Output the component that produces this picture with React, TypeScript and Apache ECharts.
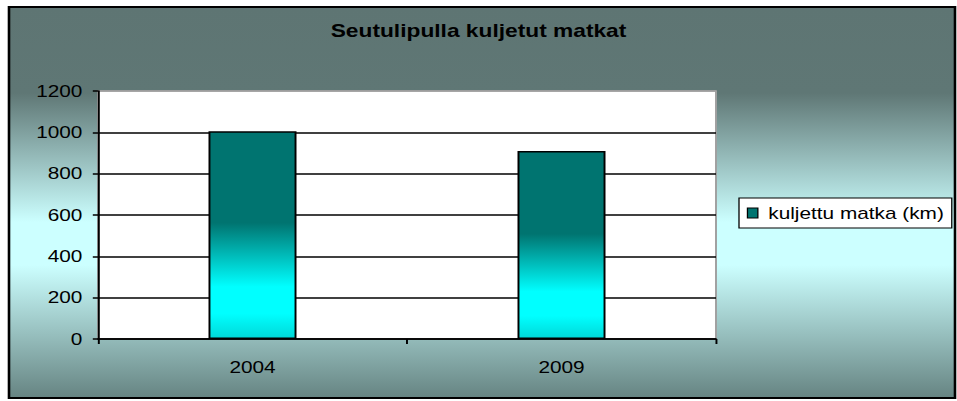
import React, { useEffect, useRef } from "react";
import * as echarts from "echarts";

const categories = ["2004", "2009"];
const seriesName = "kuljettu matka (km)";
const values = [1005, 910];
const yTicks = [0, 200, 400, 600, 800, 1000, 1200];
const titleText = "Seutulipulla kuljetut matkat";

const FULL_W = 957;
const NARROW_W = 736;
const H = 401;
const S = FULL_W / NARROW_W;
const nx = (x: number) => x / S;

export default function App() {
  const ref = useRef<HTMLDivElement>(null);
  useEffect(() => {
    document.body.style.margin = "0";
    const chart = echarts.init(ref.current!, null, { renderer: "svg" });
    const font = 'Arial, "Liberation Sans", sans-serif';
    const plotL = nx(98);
    const plotR = nx(716);
    const option = {
      animation: false,
      backgroundColor: "#ffffff",
      title: {
        text: titleText,
        left: "center",
        top: 22,
        padding: [0, 0, 0, 4.6],
        textStyle: { fontFamily: font, fontSize: 17.5, fontWeight: "bold", color: "#000" },
      },
      graphic: [
        {
          type: "rect",
          z: -100,
          shape: { x: nx(9), y: 7, width: nx(955) - nx(9), height: 391 },
          style: {
            fill: new echarts.graphic.LinearGradient(0, 0, 0, 1, [
              { offset: 0, color: "#5e7573" },
              { offset: 0.22, color: "#5f7775" },
              { offset: 0.55, color: "#ccffff" },
              { offset: 0.66, color: "#ccffff" },
              { offset: 1, color: "#668482" },
            ]),
            stroke: "#000",
            lineWidth: 2,
          },
        },
      ],
      legend: {
        left: nx(739),
        top: 198,
        orient: "vertical",
        padding: [7, 6, 7, 6],
        backgroundColor: "#fff",
        borderColor: "#000",
        borderWidth: 1,
        itemWidth: 8,
        itemHeight: 10,
        textStyle: { fontFamily: font, fontSize: 16, color: "#000", padding: [0, 0, 0, 3] },
        data: [
          {
            name: seriesName,
            icon: "rect",
            itemStyle: { color: "#007470", borderColor: "#000", borderWidth: 1 },
          },
        ],
      },
      grid: {
        left: plotL,
        right: NARROW_W - plotR,
        top: 91,
        bottom: H - 339,
        show: true,
        backgroundColor: "#fff",
        borderColor: "#a0a0a0",
        borderWidth: 1.5,
      },
      xAxis: {
        type: "category",
        data: categories,
        axisLine: { lineStyle: { color: "#000", width: 1.5 } },
        axisTick: { show: true, length: 5, lineStyle: { color: "#000", width: 1.5 } },
        axisLabel: { fontFamily: font, fontSize: 16, color: "#000", margin: 20 },
      },
      yAxis: {
        type: "value",
        min: yTicks[0],
        max: yTicks[yTicks.length - 1],
        interval: 200,
        axisLine: { show: true, lineStyle: { color: "#000", width: 1.5 } },
        axisTick: { show: true, length: 4, lineStyle: { color: "#000", width: 1.5 } },
        axisLabel: {
          fontFamily: font,
          fontSize: 16,
          color: "#000",
          margin: 12,
          formatter: (v: number) => String(v),
        },
        splitLine: {
          show: true,
          lineStyle: {
            color: ["#000", "#000", "#000", "#000", "#000", "#000", "#a0a0a0"],
            width: 1.5,
          },
        },
      },
      series: [
        {
          name: seriesName,
          type: "bar",
          data: values,
          barWidth: nx(88),
          itemStyle: {
            color: new echarts.graphic.LinearGradient(0, 0, 0, 1, [
              { offset: 0, color: "#007470" },
              { offset: 0.44, color: "#007470" },
              { offset: 0.75, color: "#00ffff" },
              { offset: 0.88, color: "#00ffff" },
              { offset: 1, color: "#00d8d8" },
            ]),
            borderColor: "#000",
            borderWidth: 1.5,
          },
        },
      ],
    };
    chart.setOption(option as any);
    return () => chart.dispose();
  }, []);
  return (
    <div style={{ width: FULL_W, height: H, overflow: "hidden", position: "relative" }}>
      <div
        ref={ref}
        style={{
          width: NARROW_W,
          height: H,
          transform: `scaleX(${S})`,
          transformOrigin: "0 0",
        }}
      />
    </div>
  );
}
